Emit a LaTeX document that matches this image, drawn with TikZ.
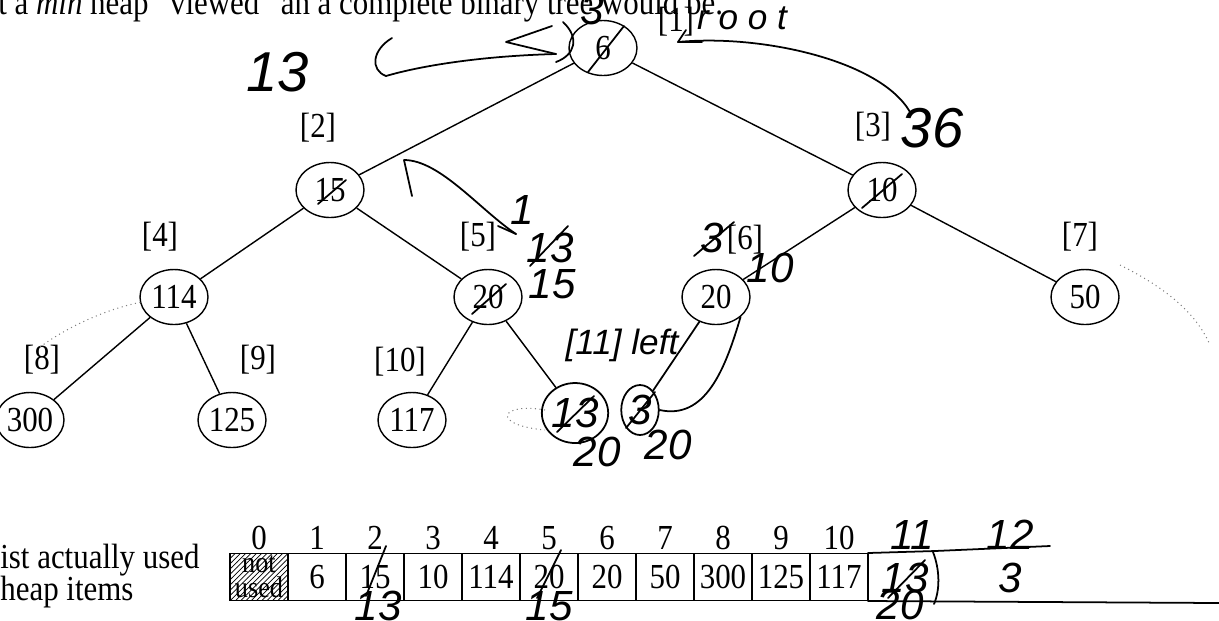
\documentclass[tikz,border=0pt]{standalone}
\usepackage{fontspec}
\setmainfont{Liberation Serif}[FakeStretch=0.88]
\newfontfamily\handfont{Liberation Sans}
\usetikzlibrary{shapes.geometric, patterns}

\begin{document}
\begin{tikzpicture}[x=0.02cm, y=-0.02cm,
    font=\fontsize{20}{22}\selectfont,
    key/.style={draw, ellipse, line width=0.8pt, minimum width=1.36cm, minimum height=1.1cm, inner sep=0pt},
    slot/.style={inner sep=0pt},
    tree/.style={line width=0.8pt},
    cell/.style={draw, line width=0.8pt, minimum width=1.16cm, minimum height=0.94cm, inner sep=0pt},
    hand/.style={font=\handfont\itshape\fontsize{24}{26}\selectfont, inner sep=0pt},
    handkey/.style={draw, ellipse, line width=1pt, inner sep=0pt},
    pen/.style={line width=1pt, line cap=round, line join=round},
    faint/.style={gray, dotted, line width=0.6pt}]
  \useasboundingbox (0,0) rectangle (1219,620);

  % heading, cut by the page
  \node[anchor=base west, inner sep=0pt] (head) at (-2,14) {t a \textit{min} heap ``viewed'' an a complete binary tree would be.};

  % the heap
  \node[key] (n1) at (603,48) {6};
  \node[key] (n2) at (330,190) {15};
  \node[key] (n3) at (882,190) {10};
  \node[key] (n4) at (174,297) {114};
  \node[key] (n5) at (488,297) {20};
  \node[key] (n6) at (716,297) {20};
  \node[key] (n7) at (1085,297) {50};
  \node[key] (n8) at (30,420) {300};
  \node[key] (n9) at (232,420) {125};
  \node[key] (n10) at (412,420) {117};

  \node[slot] (p1) at (676,22) {[1]};
  \node[slot] (p2) at (318,128) {[2]};
  \node[slot] (p3) at (873,127) {[3]};
  \node[slot] (p4) at (160,237) {[4]};
  \node[slot] (p5) at (478,237) {[5]};
  \node[slot] (p6) at (745,240) {[6]};
  \node[slot] (p7) at (1080,237) {[7]};
  \node[slot] (p8) at (42,360) {[8]};
  \node[slot] (p9) at (258,360) {[9]};
  \node[slot] (p10) at (400,362) {[10]};

  \draw[tree] (n1) -- (n2);
  \draw[tree] (n1) -- (n3);
  \draw[tree] (n2) -- (n4);
  \draw[tree] (n2) -- (n5);
  \draw[tree] (n3) -- (n6);
  \draw[tree] (n3) -- (n7);
  \draw[tree] (n4) -- (n8);
  \draw[tree] (n4) -- (n9);
  \draw[tree] (n5) -- (n10);

  % pen work on the tree
  \node[handkey, minimum width=1.3cm, minimum height=1.2cm] (n11) at (575,413) {\handfont\itshape\fontsize{24}{26}\selectfont 13};
  \node[handkey, minimum width=0.75cm, minimum height=1cm] (n12) at (640,410) {\handfont\itshape\fontsize{24}{26}\selectfont 3};
  \draw[tree] (n5) -- (n11);
  \draw[pen] (n6) -- (n12);
  \draw[pen] (n6.south east) .. controls (725,370) and (705,420) .. (n12.east);

  \node[hand] (h3) at (592,10) {3};
  \node[hand, font=\handfont\itshape\fontsize{20}{22}\selectfont] (hroot) at (742,18) {r o o t};
  \node[hand, font=\handfont\itshape\fontsize{32}{34}\selectfont] (h13a) at (278,72) {13};
  \node[hand, font=\handfont\itshape\fontsize{32}{34}\selectfont] (h36) at (932,128) {36};
  \node[hand] (h1) at (522,210) {1};
  \node[hand] (h13b) at (550,248) {13};
  \node[hand] (h15a) at (552,284) {15};
  \node[hand] (h3b) at (712,238) {3};
  \node[hand] (h10) at (770,268) {10};
  \node[hand, font=\handfont\itshape\fontsize{20}{22}\selectfont] (hleft) at (622,345) {[11] left};
  \node[hand] (h20a) at (597,452) {20};
  \node[hand] (h20b) at (668,445) {20};

  \draw[pen] (588,72) -- (624,26);
  \draw[pen] (318,204) -- (346,180);
  \draw[pen] (862,208) -- (902,174);
  \draw[pen] (472,314) -- (506,284);
  \draw[pen] (530,266) -- (568,226);
  \draw[pen] (694,256) -- (734,222);
  \draw[pen] (557,432) -- (594,396);
  \draw[pen] (626,428) -- (655,392);

  \draw[pen] (552,26) -- (506,42) -- (556,54);
  \draw[pen] (556,54) .. controls (480,56) and (420,66) .. (386,76);
  \draw[pen] (386,76) .. controls (370,70) and (372,50) .. (392,38);
  \draw[pen] (563,22) .. controls (580,38) and (575,55) .. (556,62);
  \draw[pen] (702,42) -- (678,42) -- (686,30);
  \draw[pen] (678,42) .. controls (760,34) and (880,60) .. (910,112);
  \draw[pen] (412,196) -- (404,160) .. controls (440,160) and (480,210) .. (516,234);
  \draw[pen] (498,226) -- (516,234);
  \draw[faint] (545,410) .. controls (500,402) and (490,425) .. (545,430);

  \draw[faint] (40,347) .. controls (70,325) and (110,308) .. (142,302);
  \draw[faint] (1120,265) .. controls (1160,285) and (1195,310) .. (1210,345);

  % the list
  \node[anchor=west, inner sep=0pt] (lst1) at (0,560) {ist actually used};
  \node[anchor=west, inner sep=0pt] (lst2) at (0,592) {heap items};

  \node[cell, pattern=north east lines] (c0) at (259,577) {};
  \node[align=center, inner sep=0pt, font=\fontsize{17}{14}\selectfont] (nu) at (c0) {not\\used};
  \foreach \i/\v in {1/6, 2/15, 3/10, 4/114, 5/20, 6/20, 7/50, 8/300, 9/125, 10/117}
    \node[cell] (c\i) at ({259+58*\i},577) {\v};
  \foreach \i in {0,...,10}
    \node (k\i) at ({259+58*\i},538) {\i};

  \node[hand] (k11) at (912,535) {11};
  \node[hand] (k12) at (1010,535) {12};
  \node[hand] (v11) at (905,578) {13};
  \node[hand] (v12) at (1010,578) {3};
  \node[hand] (u2) at (378,606) {13};
  \node[hand] (u5) at (549,606) {15};
  \node[hand] (u11) at (900,605) {20};

  \draw[pen] (366,596) -- (386,546);
  \draw[pen] (537,598) -- (561,550);
  \draw[pen] (888,598) -- (925,560);
  \draw[pen] (933,552) .. controls (940,570) and (940,590) .. (934,604);
  \draw[pen] (868,553) -- (935,551) -- (1050,546);
  \draw[pen] (868,601) -- (1219,603);
\end{tikzpicture}
\end{document}
